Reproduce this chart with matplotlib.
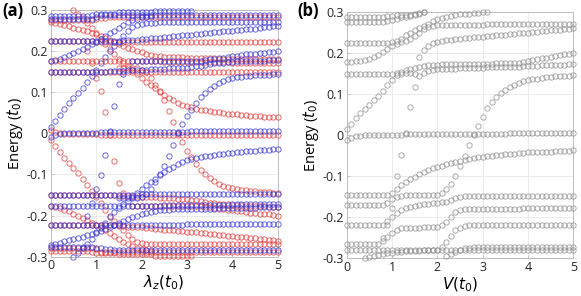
import numpy as np
import matplotlib
matplotlib.use("Agg")
import matplotlib.pyplot as plt

# both sweeps run from 0 to 5 in steps of 0.1; each band is (first step index, energies)
x_step = 0.1

# ---- panel (a): levels vs lambda_z, blue and red spin sectors ----
b_zero = (0, [-0.008, -0.004, -0.001] + [0.001] * 8 + [0.003] * 20 + [0.005] * 20)
b_rise = (0, [0.015, 0.03, 0.045, 0.06, 0.073, 0.085, 0.097, 0.11, 0.125, 0.14, 0.155, 0.17,
              0.186, 0.2, 0.212, 0.223, 0.236, 0.248, 0.258, 0.264, 0.267, 0.268, 0.269, 0.269]
          + [0.27] * 27)
b_top1 = (0, [0.286] * 9 + [0.289] + [0.291] * 5 + [0.294] * 8 + [0.298] * 9)
b_top2 = (0, [0.279] * 10 + [0.282] + [0.288] * 40)
b_22 = (0, [0.224] * 15 + [0.225, 0.226, 0.227, 0.227, 0.228, 0.229, 0.23, 0.231, 0.232, 0.233,
                          0.234, 0.235, 0.236, 0.237, 0.238, 0.239, 0.24, 0.241, 0.242, 0.243,
                          0.245, 0.246, 0.247, 0.248, 0.249, 0.25, 0.251, 0.252, 0.253, 0.254,
                          0.255, 0.257, 0.258, 0.259, 0.26, 0.262])
b_17 = (0, [0.177, 0.179, 0.182, 0.186, 0.19, 0.195, 0.2, 0.205, 0.211, 0.217, 0.223, 0.229,
            0.236, 0.243, 0.25, 0.257, 0.264, 0.27, 0.275, 0.279, 0.282, 0.284, 0.285])
b_15 = (0, [0.149] * 11 + [0.15, 0.15, 0.151, 0.151, 0.152, 0.152, 0.153, 0.153, 0.154, 0.155,
                          0.155, 0.156, 0.156, 0.157, 0.157, 0.158, 0.158, 0.159, 0.159, 0.16,
                          0.161, 0.163, 0.165, 0.167, 0.169, 0.17, 0.171, 0.172, 0.173, 0.174,
                          0.175, 0.175, 0.176, 0.176, 0.177, 0.177, 0.177, 0.178, 0.178, 0.178])
b_18 = (18, [0.176] * 15 + [0.177, 0.178, 0.18, 0.181, 0.183, 0.184, 0.186, 0.187, 0.189, 0.19,
                           0.192, 0.193, 0.194, 0.195, 0.196, 0.197, 0.198, 0.2])
b_late = (15, [-0.158] * 5 + [-0.155, -0.148, -0.135, -0.118, -0.1, -0.08, -0.055, -0.028, 0.0,
                             0.022, 0.042, 0.058, 0.074, 0.088, 0.099, 0.108, 0.116, 0.122,
                             0.127, 0.131, 0.134, 0.136, 0.138, 0.139, 0.14, 0.141, 0.142,
                             0.143, 0.143, 0.144, 0.144])
b_cross = (8, [-0.2, -0.17, -0.135, -0.102, -0.052, 0.005, 0.067, 0.12, 0.145])
b_m_top = (0, [-0.276] * 10 + [-0.278, -0.28, -0.281, -0.282, -0.283] + [-0.284] * 36)
b_m_a = (0, [-0.272, -0.269, -0.266, -0.263, -0.26, -0.257, -0.254, -0.251, -0.248, -0.245,
             -0.241, -0.237, -0.233, -0.228, -0.223, -0.218, -0.213, -0.208, -0.204, -0.2,
             -0.197, -0.194, -0.191, -0.189, -0.187, -0.186, -0.186, -0.185, -0.185, -0.185,
             -0.184, -0.184, -0.184, -0.183, -0.183, -0.183, -0.183, -0.182, -0.182, -0.182,
             -0.182, -0.181, -0.181, -0.181, -0.181, -0.181, -0.18, -0.18, -0.18, -0.18, -0.18])
b_m_b = (5, [-0.3, -0.29, -0.28, -0.268, -0.256, -0.243, -0.23, -0.217, -0.204, -0.192,
             -0.181, -0.172, -0.164, -0.155, -0.145, -0.135, -0.126, -0.118, -0.11, -0.102,
             -0.094, -0.087, -0.081, -0.075, -0.07, -0.066, -0.063, -0.06, -0.058, -0.056,
             -0.054, -0.052, -0.051, -0.05, -0.048, -0.047, -0.046, -0.045, -0.044, -0.043,
             -0.042, -0.041, -0.04, -0.04, -0.039, -0.039])
b_m_22 = (0, [-0.224] * 10 + [-0.223] * 20 + [-0.221] * 21)
b_m_17 = (0, [-0.177] * 10 + [-0.176] * 15 + [-0.174] * 15 + [-0.172] * 11)
b_m_15 = (0, [-0.149] * 20 + [-0.148] * 31)

r_zero = (0, [0.008, 0.004, 0.001] + [-0.001] * 8 + [-0.003] * 20 + [-0.005] * 20)
r_top = (0, [0.276] * 10 + [0.278, 0.28, 0.281, 0.282, 0.283] + [0.284] * 36)
r_a = (0, [0.272, 0.269, 0.266, 0.263, 0.26, 0.257, 0.254, 0.251, 0.248, 0.245,
           0.241, 0.237, 0.233, 0.228, 0.223, 0.218, 0.213, 0.208, 0.204, 0.2,
           0.197, 0.194, 0.191, 0.189, 0.187, 0.186, 0.186, 0.185, 0.185, 0.185,
           0.184, 0.184, 0.184, 0.183, 0.183, 0.183, 0.183, 0.182, 0.182, 0.182,
           0.182, 0.181, 0.181, 0.181, 0.181, 0.181, 0.18, 0.18, 0.18, 0.18, 0.18])
r_b = (5, [0.3, 0.29, 0.28, 0.268, 0.256, 0.243, 0.23, 0.217, 0.204, 0.192,
           0.181, 0.172, 0.164, 0.155, 0.145, 0.135, 0.126, 0.118, 0.11, 0.102,
           0.094, 0.087, 0.081, 0.075, 0.07, 0.066, 0.063, 0.06, 0.058, 0.056,
           0.054, 0.052, 0.051, 0.05, 0.048, 0.047, 0.046, 0.045, 0.044, 0.043,
           0.042, 0.041, 0.04, 0.04, 0.039, 0.039])
r_22 = (0, [0.224] * 10 + [0.223] * 20 + [0.221] * 21)
r_17 = (0, [0.177] * 10 + [0.176] * 15 + [0.174] * 15 + [0.172] * 11)
r_15 = (0, [0.149] * 20 + [0.148] * 31)
r_late = (15, [0.158] * 5 + [0.155, 0.148, 0.135, 0.118, 0.1, 0.08, 0.055, 0.028, 0.0,
                            -0.022, -0.042, -0.058, -0.074, -0.088, -0.099, -0.108, -0.116,
                            -0.122, -0.127, -0.131, -0.134, -0.136, -0.138, -0.139, -0.14,
                            -0.141, -0.142, -0.143, -0.143, -0.144, -0.144])
r_cross = (8, [0.2, 0.17, 0.135, 0.102, 0.052, -0.005, -0.067, -0.12, -0.145])
r_fall = (0, [-0.015, -0.03, -0.045, -0.06, -0.073, -0.085, -0.097, -0.11, -0.125, -0.14,
              -0.155, -0.17, -0.186, -0.2, -0.212, -0.223, -0.236, -0.248, -0.258, -0.264,
              -0.267, -0.268, -0.269, -0.269] + [-0.27] * 27)
r_bot1 = (0, [-0.286] * 9 + [-0.289] + [-0.291] * 5 + [-0.294] * 8 + [-0.298] * 9)
r_bot2 = (0, [-0.279] * 10 + [-0.282] + [-0.288] * 40)
r_m22 = (0, [-0.224] * 15 + [-0.225, -0.226, -0.227, -0.227, -0.228, -0.229, -0.23, -0.231,
                            -0.232, -0.233, -0.234, -0.235, -0.236, -0.237, -0.238, -0.239,
                            -0.24, -0.241, -0.242, -0.243, -0.245, -0.246, -0.247, -0.248,
                            -0.249, -0.25, -0.251, -0.252, -0.253, -0.254, -0.255, -0.257,
                            -0.258, -0.259, -0.26, -0.262])
r_m17 = (0, [-0.177, -0.179, -0.182, -0.186, -0.19, -0.195, -0.2, -0.205, -0.211, -0.217,
             -0.223, -0.229, -0.236, -0.243, -0.25, -0.257, -0.264, -0.27, -0.275, -0.279,
             -0.282, -0.284, -0.285])
r_m15 = (0, [-0.149] * 11 + [-0.15, -0.15, -0.151, -0.151, -0.152, -0.152, -0.153, -0.153,
                            -0.154, -0.155, -0.155, -0.156, -0.156, -0.157, -0.157, -0.158,
                            -0.158, -0.159, -0.159, -0.16, -0.161, -0.163, -0.165, -0.167,
                            -0.169, -0.17, -0.171, -0.172, -0.173, -0.174, -0.175, -0.175,
                            -0.176, -0.176, -0.177, -0.177, -0.177, -0.178, -0.178, -0.178])
r_m18 = (18, [-0.176] * 15 + [-0.177, -0.178, -0.18, -0.181, -0.183, -0.184, -0.186, -0.187,
                             -0.189, -0.19, -0.192, -0.193, -0.194, -0.195, -0.196, -0.197,
                             -0.198, -0.2])

blue_a = [b_zero, b_rise, b_top1, b_top2, b_22, b_17, b_15, b_18, b_late, b_cross,
          b_m_top, b_m_a, b_m_b, b_m_22, b_m_17, b_m_15]
red_a = [r_zero, r_top, r_a, r_b, r_22, r_17, r_15, r_late, r_cross,
         r_fall, r_bot1, r_bot2, r_m22, r_m17, r_m15, r_m18]

# ---- panel (b): levels vs V ----
g_zero = (0, [-0.012, -0.006, -0.003, -0.001] + [0.0] * 9 + [0.002] * 13 + [0.004] * 10 + [0.006] * 15)
g_diag = (0, [0.016, 0.028, 0.042, 0.053, 0.063, 0.074, 0.085, 0.096, 0.108, 0.121, 0.135,
              0.146, 0.149, 0.151, 0.152, 0.15, 0.143, 0.152, 0.156, 0.158, 0.16,
              0.161, 0.161, 0.162, 0.162, 0.163, 0.163, 0.163, 0.164, 0.164, 0.164,
              0.165, 0.165, 0.165, 0.166, 0.166, 0.166, 0.167, 0.167, 0.168, 0.168,
              0.169, 0.169, 0.17, 0.17, 0.171, 0.171, 0.172, 0.172, 0.173, 0.174])
g_15 = (0, [0.149] * 11 + [0.152, 0.155, 0.158, 0.161, 0.164, 0.166, 0.168, 0.17, 0.171, 0.172]
        + [0.173] * 6 + [0.174] * 6 + [0.175] * 5
        + [0.177, 0.179, 0.181, 0.183, 0.185, 0.187, 0.189, 0.191, 0.193, 0.195, 0.197, 0.198, 0.2])
g_17 = (0, [0.179, 0.179, 0.18, 0.181, 0.183, 0.186, 0.19, 0.196, 0.203, 0.211, 0.218, 0.222,
            0.226, 0.229, 0.234, 0.242, 0.25, 0.258, 0.263, 0.266, 0.268]
        + [0.269] * 10 + [0.27] * 10 + [0.271] * 10)
g_22 = (0, [0.225] * 10 + [0.226, 0.229, 0.235, 0.243, 0.25, 0.256, 0.261, 0.266, 0.272, 0.278,
                          0.283, 0.286, 0.289, 0.291, 0.293, 0.294, 0.295, 0.296, 0.297, 0.298,
                          0.299, 0.3])
g_steep = (8, [-0.25, -0.22, -0.178, -0.1, -0.048, 0.006, 0.069, 0.118, 0.19, 0.208, 0.218,
               0.224, 0.228, 0.23, 0.232, 0.233, 0.234, 0.235, 0.236, 0.237, 0.238, 0.239,
               0.24, 0.241, 0.242, 0.243, 0.244, 0.245, 0.246, 0.247, 0.248, 0.249, 0.25,
               0.251, 0.252, 0.253, 0.254, 0.255, 0.256, 0.257, 0.258, 0.259, 0.26])
g_top1 = (0, [0.288] * 9 + [0.29, 0.291, 0.292, 0.293, 0.293, 0.293, 0.293, 0.296, 0.299])
g_top2 = (0, [0.276] * 9 + [0.278, 0.281, 0.284, 0.287, 0.289, 0.291, 0.294, 0.297, 0.3])
g_m1 = (0, [-0.145] * 10 + [-0.14, -0.13, -0.122, -0.115, -0.108, -0.101, -0.095, -0.09, -0.085,
                           -0.081, -0.077, -0.074, -0.071, -0.068, -0.065, -0.062, -0.06,
                           -0.058, -0.056, -0.054, -0.053, -0.052, -0.05, -0.049, -0.048,
                           -0.047, -0.046, -0.045, -0.044, -0.043, -0.042, -0.042, -0.041,
                           -0.041, -0.04, -0.04, -0.039, -0.039, -0.038, -0.038, -0.037])
g_late = (0, [-0.17] * 9 + [-0.165, -0.155, -0.15, -0.148] + [-0.147] * 4 + [-0.145] * 4
          + [-0.14, -0.132, -0.12, -0.1, -0.075, -0.05, -0.024, 0.0, 0.022, 0.045, 0.065, 0.08,
             0.093, 0.103, 0.111, 0.118, 0.123, 0.127, 0.131, 0.134, 0.136, 0.138, 0.139,
             0.141, 0.142, 0.143, 0.144, 0.145, 0.145, 0.146])
g_m15 = (0, [-0.218] * 9 + [-0.21, -0.2, -0.19, -0.183, -0.178, -0.175, -0.172, -0.17, -0.168,
                           -0.167, -0.166, -0.165, -0.164, -0.162, -0.158, -0.153, -0.15]
         + [-0.149] * 12 + [-0.148] * 13)
g_m18 = (0, [-0.265] * 8 + [-0.258, -0.248, -0.238, -0.23, -0.226] + [-0.225] * 4 + [-0.223] * 4
         + [-0.218, -0.212, -0.2, -0.188, -0.182, -0.18] + [-0.179] * 12 + [-0.178] * 12)
g_m22 = (0, [-0.28] * 10 + [-0.279] * 11 + [-0.272, -0.26, -0.245, -0.232, -0.225, -0.221]
         + [-0.22] * 12 + [-0.218] * 12)
g_bot1 = (4, [-0.3, -0.297, -0.294, -0.291, -0.289, -0.287, -0.286, -0.285, -0.284, -0.283,
              -0.283, -0.282, -0.282, -0.281, -0.281, -0.281] + [-0.28] * 31)
g_bot2 = (22, [-0.295, -0.29, -0.285, -0.28, -0.276, -0.274] + [-0.273] * 12 + [-0.272] * 11)

gray_b = [g_zero, g_diag, g_15, g_17, g_22, g_steep, g_top1, g_top2,
          g_m1, g_late, g_m15, g_m18, g_m22, g_bot1, g_bot2]

y_ticks = [-0.3, -0.2, -0.1, 0, 0.1, 0.2, 0.3]
y_labels = ["-0.3", "-0.2", "-0.1", "0", "0.1", "0.2", "0.3"]
x_ticks = [0, 1, 2, 3, 4, 5]


def draw_bands(ax, bands, color):
    for start, energies in bands:
        xs = (start + np.arange(len(energies))) * x_step
        ax.plot(xs, energies, "o", ms=3.8, mfc="none", mec=color, mew=0.65,
                alpha=0.8, clip_on=False, zorder=3)


def style(ax, xlabel):
    ax.set_xlim(0, 5)
    ax.set_ylim(-0.3, 0.3)
    ax.set_xticks(x_ticks)
    ax.set_yticks(y_ticks)
    ax.set_yticklabels(y_labels)
    ax.grid(True, color="#e8e8e8", lw=0.6)
    ax.set_axisbelow(True)
    ax.tick_params(direction="in", length=2.5, width=0.6, colors="#bdbdbd",
                   labelcolor="#262626", labelsize=9, pad=2)
    for s in ax.spines.values():
        s.set_color("#bdbdbd")
        s.set_linewidth(0.7)
    ax.set_ylabel("Energy ($t_0$)", fontsize=10.5, labelpad=1)
    ax.set_xlabel(xlabel, fontsize=11, labelpad=1)


plt.rcParams["font.family"] = ["Open Sans", "DejaVu Sans"]
plt.rcParams["axes.unicode_minus"] = False
plt.rcParams["mathtext.fontset"] = "dejavusans"

fig = plt.figure(figsize=(5.81, 2.96), dpi=100)
ax1 = fig.add_axes([0.0873, 0.1328, 0.3907, 0.8334])
ax2 = fig.add_axes([0.5967, 0.1274, 0.3900, 0.8320])

draw_bands(ax1, red_a, "#e23b3b")
draw_bands(ax1, blue_a, "#3434d4")
draw_bands(ax2, gray_b, "#8f8f8f")

style(ax1, r"$\lambda_z(t_0)$")
style(ax2, r"$V(t_0)$")

fig.text(0.004, 0.962, "(a)", fontsize=12, fontweight="bold", va="center")
fig.text(0.511, 0.962, "(b)", fontsize=12, fontweight="bold", va="center")

fig.savefig("out.png", dpi=100)
